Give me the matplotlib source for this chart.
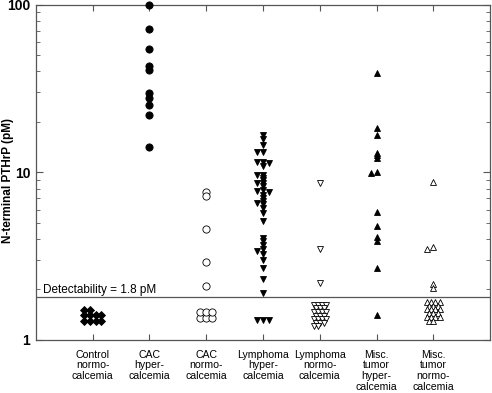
import numpy as np
import matplotlib.pyplot as plt

plt.rcParams['font.family'] = ['Liberation Sans', 'DejaVu Sans']

# group labels (x axis)
groups = ["Control\nnormo-\ncalcemia", "CAC\nhyper-\ncalcemia", "CAC\nnormo-\ncalcemia",
          "Lymphoma\nhyper-\ncalcemia", "Lymphoma\nnormo-\ncalcemia",
          "Misc.\ntumor\nhyper-\ncalcemia", "Misc.\ntumor\nnormo-\ncalcemia"]

# detectable values (pM)
control_normo = []
cac_hyper = [100, 72, 54.5, 43.3, 41, 29.8, 27.8, 25.2, 22.1, 14.1]
cac_normo = [7.6, 7.2, 4.6, 2.9, 2.1]
lymph_hyper = [16.8, 15.9, 14.5, 13.3, 13.3, 11.6, 11.6, 11.3, 10.9, 9.7, 9.6, 9.3,
               9.0, 8.6, 8.6, 8.3, 7.8, 7.7, 7.6, 7.3, 7.0, 6.7, 6.6, 6.5, 6.1, 5.7,
               5.1, 4.05, 3.9, 3.7, 3.5, 3.4, 3.25, 3.0, 2.7, 2.3, 1.9]
lymph_normo = [8.6, 3.5, 2.2]
misc_hyper = [39, 18.5, 16.6, 13.1, 12.7, 12.2, 10.0, 9.9, 5.8, 4.8, 4.1, 3.9, 2.7]
misc_normo = [8.7, 3.6, 3.5, 2.15, 2.05]

# number of samples below detectability in each group
undetectable = [10, 0, 6, 3, 23, 1, 20]

detect_limit = 1.8

values = [control_normo, cac_hyper, cac_normo, lymph_hyper, lymph_normo, misc_hyper, misc_normo]
markers = ['D', 'o', 'o', 'v', 'v', '^', '^']
filled = [True, True, False, True, False, True, False]


def swarm(vals, dx=0.105, thr=0.013):
    # spread points sideways when they sit too close on the log axis
    placed = []
    out = []
    for v in vals:
        lv = np.log10(v)
        for off in [0, -dx, dx, -2 * dx, 2 * dx]:
            if all(abs(lv - p[1]) >= thr or abs(off - p[0]) > 1e-9 for p in placed):
                break
        placed.append((off, lv))
        out.append(off)
    return np.array(out)


def square_cluster(n, ncols, bottom, dlog, dx):
    xs, ys = [], []
    for i in range(n):
        r, c = divmod(i, ncols)
        xs.append((c - (ncols - 1) / 2) * dx)
        ys.append(bottom * 10 ** (r * dlog))
    return np.array(xs), np.array(ys)


def hex_cluster(n, ncols, top, dlog, dx):
    xs, ys = [], []
    r = 0
    left = n
    while left > 0:
        full = ncols if r % 2 == 0 else ncols - 1
        k = min(full, left)
        for j in range(k):
            xs.append((j - (full - 1) / 2) * dx)
            ys.append(top / 10 ** (r * dlog))
        left -= k
        r += 1
    return np.array(xs), np.array(ys)


# cluster layout for undetectable samples
cluster_style = {
    0: ('sq', 4, 1.30, 0.033, 0.10),
    2: ('sq', 3, 1.35, 0.039, 0.105),
    3: ('sq', 3, 1.31, 0.03, 0.1),
    4: ('hex', 4, 1.62, 0.0215, 0.072),
    5: ('sq', 1, 1.41, 0.03, 0.1),
    6: ('hex', 4, 1.69, 0.0225, 0.075),
}

fig = plt.figure(figsize=(4.92, 3.93), dpi=100)
ax = fig.add_axes([0.073, 0.135, 0.923, 0.853])
ax.set_yscale('log')
ax.set_ylim(1, 100)
ax.set_xlim(0, 8)

for i, vals in enumerate(values):
    pos = i + 1
    fc = 'black' if filled[i] else 'white'
    ms = {'o': 5.2, 'D': 4.4}.get(markers[i], 5.0)
    if vals:
        offs = swarm(vals)
        ax.plot(pos + offs, vals, linestyle='none', marker=markers[i], ms=ms,
                mfc=fc, mec='black', mew=0.6, clip_on=False, zorder=3)
    if undetectable[i]:
        kind, nc, y0, dl, dx = cluster_style[i]
        if kind == 'sq':
            cx, cy = square_cluster(undetectable[i], nc, y0, dl, dx)
        else:
            cx, cy = hex_cluster(undetectable[i], nc, y0, dl, dx)
        cms = ms if kind == 'sq' else 4.4
        ax.plot(pos + cx, cy, linestyle='none', marker=markers[i], ms=cms,
                mfc=fc, mec='black', mew=0.6, zorder=3)

ax.axhline(detect_limit, color='#555555', lw=0.9, zorder=2)
ax.text(0.13, detect_limit * 1.01, "Detectability = 1.8 pM", fontsize=8.5,
        va='bottom', ha='left')

ax.set_xticks(range(1, 8))
ax.set_xticklabels(groups, fontsize=7.6, linespacing=1.08)
ax.set_yticks([1, 10, 100])
ax.set_yticklabels(['1', '10', '100'], fontsize=10, fontweight='bold')
ax.tick_params(axis='both', which='both', direction='in', top=True, right=True,
               color='#555555')
ax.tick_params(axis='x', length=4, pad=7)
ax.tick_params(axis='y', which='major', length=5, pad=4)
ax.tick_params(axis='y', which='minor', length=3)
ax.yaxis.set_minor_formatter(plt.NullFormatter())
for s in ax.spines.values():
    s.set_color('#555555')
    s.set_linewidth(0.9)

ax.set_ylabel("N-terminal PTHrP (pM)", fontsize=8.5, fontweight='bold')
ax.yaxis.set_label_coords(-0.048, 0.476)

fig.savefig("out.png", dpi=100)
